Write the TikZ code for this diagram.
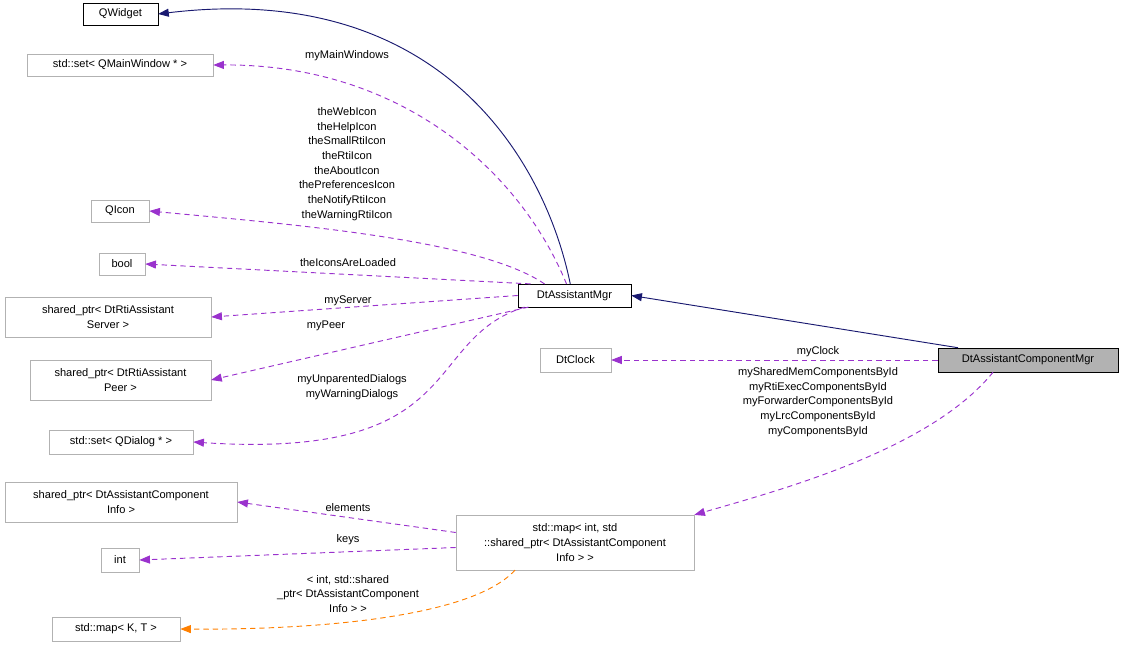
\documentclass[tikz,border=0pt]{standalone}
\usepackage{fontspec}
\setmainfont{Liberation Sans}
\usetikzlibrary{arrows.meta}
\definecolor{purp}{HTML}{9A32CD}
\definecolor{navy}{HTML}{191970}
\begin{document}
\begin{tikzpicture}[x=0.75pt,y=-0.75pt,font=\fontsize{8.3pt}{11pt}\selectfont,
 box/.style={draw=black!30,fill=white,align=center,inner sep=2pt,rectangle},
 bbox/.style={draw=black,fill=white,align=center,inner sep=2pt},
 inh/.style={draw=navy,line width=0.7pt,-{Triangle[length=8pt,width=6pt]}},
 use/.style={draw=purp,line width=0.7pt,dash pattern=on 4pt off 3pt,-{Triangle[length=8pt,width=6pt]}},
 tpl/.style={draw=orange,line width=0.7pt,dash pattern=on 4pt off 3pt,-{Triangle[length=8pt,width=6pt]}},
 lab/.style={align=center,inner sep=0pt}]
\useasboundingbox (0,0) rectangle (1125,648);
\node[bbox,minimum width=56pt,minimum height=16.5pt] (qw) at (120.5,14) {QWidget};
\node[box,minimum width=139.5pt,minimum height=16.5pt] (qmw) at (120,65) {std::set< QMainWindow * >};
\node[box,minimum width=43.5pt,minimum height=16.5pt] (qi) at (120,211) {QIcon};
\node[box,minimum width=34.5pt,minimum height=16.5pt] (bo) at (122,264) {bool};
\node[box,minimum width=154.5pt,minimum height=30pt] (srv) at (108,317) {shared\_ptr< DtRtiAssistant\\Server >};
\node[box,minimum width=135.5pt,minimum height=30pt] (peer) at (120.5,380) {shared\_ptr< DtRtiAssistant\\Peer >};
\node[box,minimum width=108pt,minimum height=18pt] (qd) at (121,442) {std::set< QDialog * >};
\node[box,minimum width=174pt,minimum height=30pt] (inf) at (121,502) {shared\_ptr< DtAssistantComponent\\Info >};
\node[box,minimum width=28.5pt,minimum height=18pt] (int) at (120,560) {int};
\node[box,minimum width=96pt,minimum height=18pt] (kt) at (116,629) {std::map< K, T >};
\node[bbox,minimum width=84.75pt,minimum height=17pt] (mgr) at (574.5,295.5) {DtAssistantMgr};
\node[box,minimum width=53pt,minimum height=18pt] (clk) at (575.5,360) {DtClock};
\node[bbox,fill=black!30,minimum width=135pt,minimum height=18pt] (cm) at (1028,360) {DtAssistantComponentMgr};
\node[box,minimum width=178.5pt,minimum height=41pt] (map) at (575,542.5) {std::map< int, std\\::shared\_ptr< DtAssistantComponent\\Info > >};

\draw[inh] (mgr.north east)++(-61,0) .. controls (545,160) and (440,-20) .. (qw.east);
\draw[inh] (cm.north)++(-70,0) -- (mgr.east);
\draw[use] (mgr.north)++(-8,0) .. controls (520,170) and (400,64) .. (qmw.east);
\draw[use] (mgr.north)++(-30,0) .. controls (480,240) and (300,225) .. (qi.east);
\draw[use] (mgr.north)++(-44,0) -- (bo.east);
\draw[use] (mgr.west) -- (srv.east);
\draw[use] (mgr.south)++(-46,0) -- (peer.east);
\draw[use] (mgr.south)++(-50,0) .. controls (420,340) and (470,460) .. (qd.east);
\draw[use] (cm.west) -- (clk.east);
\draw[use] (cm.south)++(-35,0) .. controls (930,450) and (780,490) .. (map.north east);
\draw[use] (map.west)++(0,-10) -- (inf.east);
\draw[use] (map.west)++(0,5) -- (int.east);
\draw[tpl] (map.south)++(-60,0) .. controls (470,620) and (300,630) .. (kt.east);

\node[lab] at (347,56) {myMainWindows};
\node[lab] at (347,164) {theWebIcon\\theHelpIcon\\theSmallRtiIcon\\theRtiIcon\\theAboutIcon\\thePreferencesIcon\\theNotifyRtiIcon\\theWarningRtiIcon};
\node[lab] at (348,263) {theIconsAreLoaded};
\node[lab] at (348,301) {myServer};
\node[lab] at (326,326) {myPeer};
\node[lab] at (352,387) {myUnparentedDialogs\\myWarningDialogs};
\node[lab] at (818,352) {myClock};
\node[lab] at (818,402) {mySharedMemComponentsById\\myRtiExecComponentsById\\myForwarderComponentsById\\myLrcComponentsById\\myComponentsById};
\node[lab] at (348,508) {elements};
\node[lab] at (348,540) {keys};
\node[lab] at (348,594) {< int, std::shared\\\_ptr< DtAssistantComponent\\Info > >};
\end{tikzpicture}
\end{document}
